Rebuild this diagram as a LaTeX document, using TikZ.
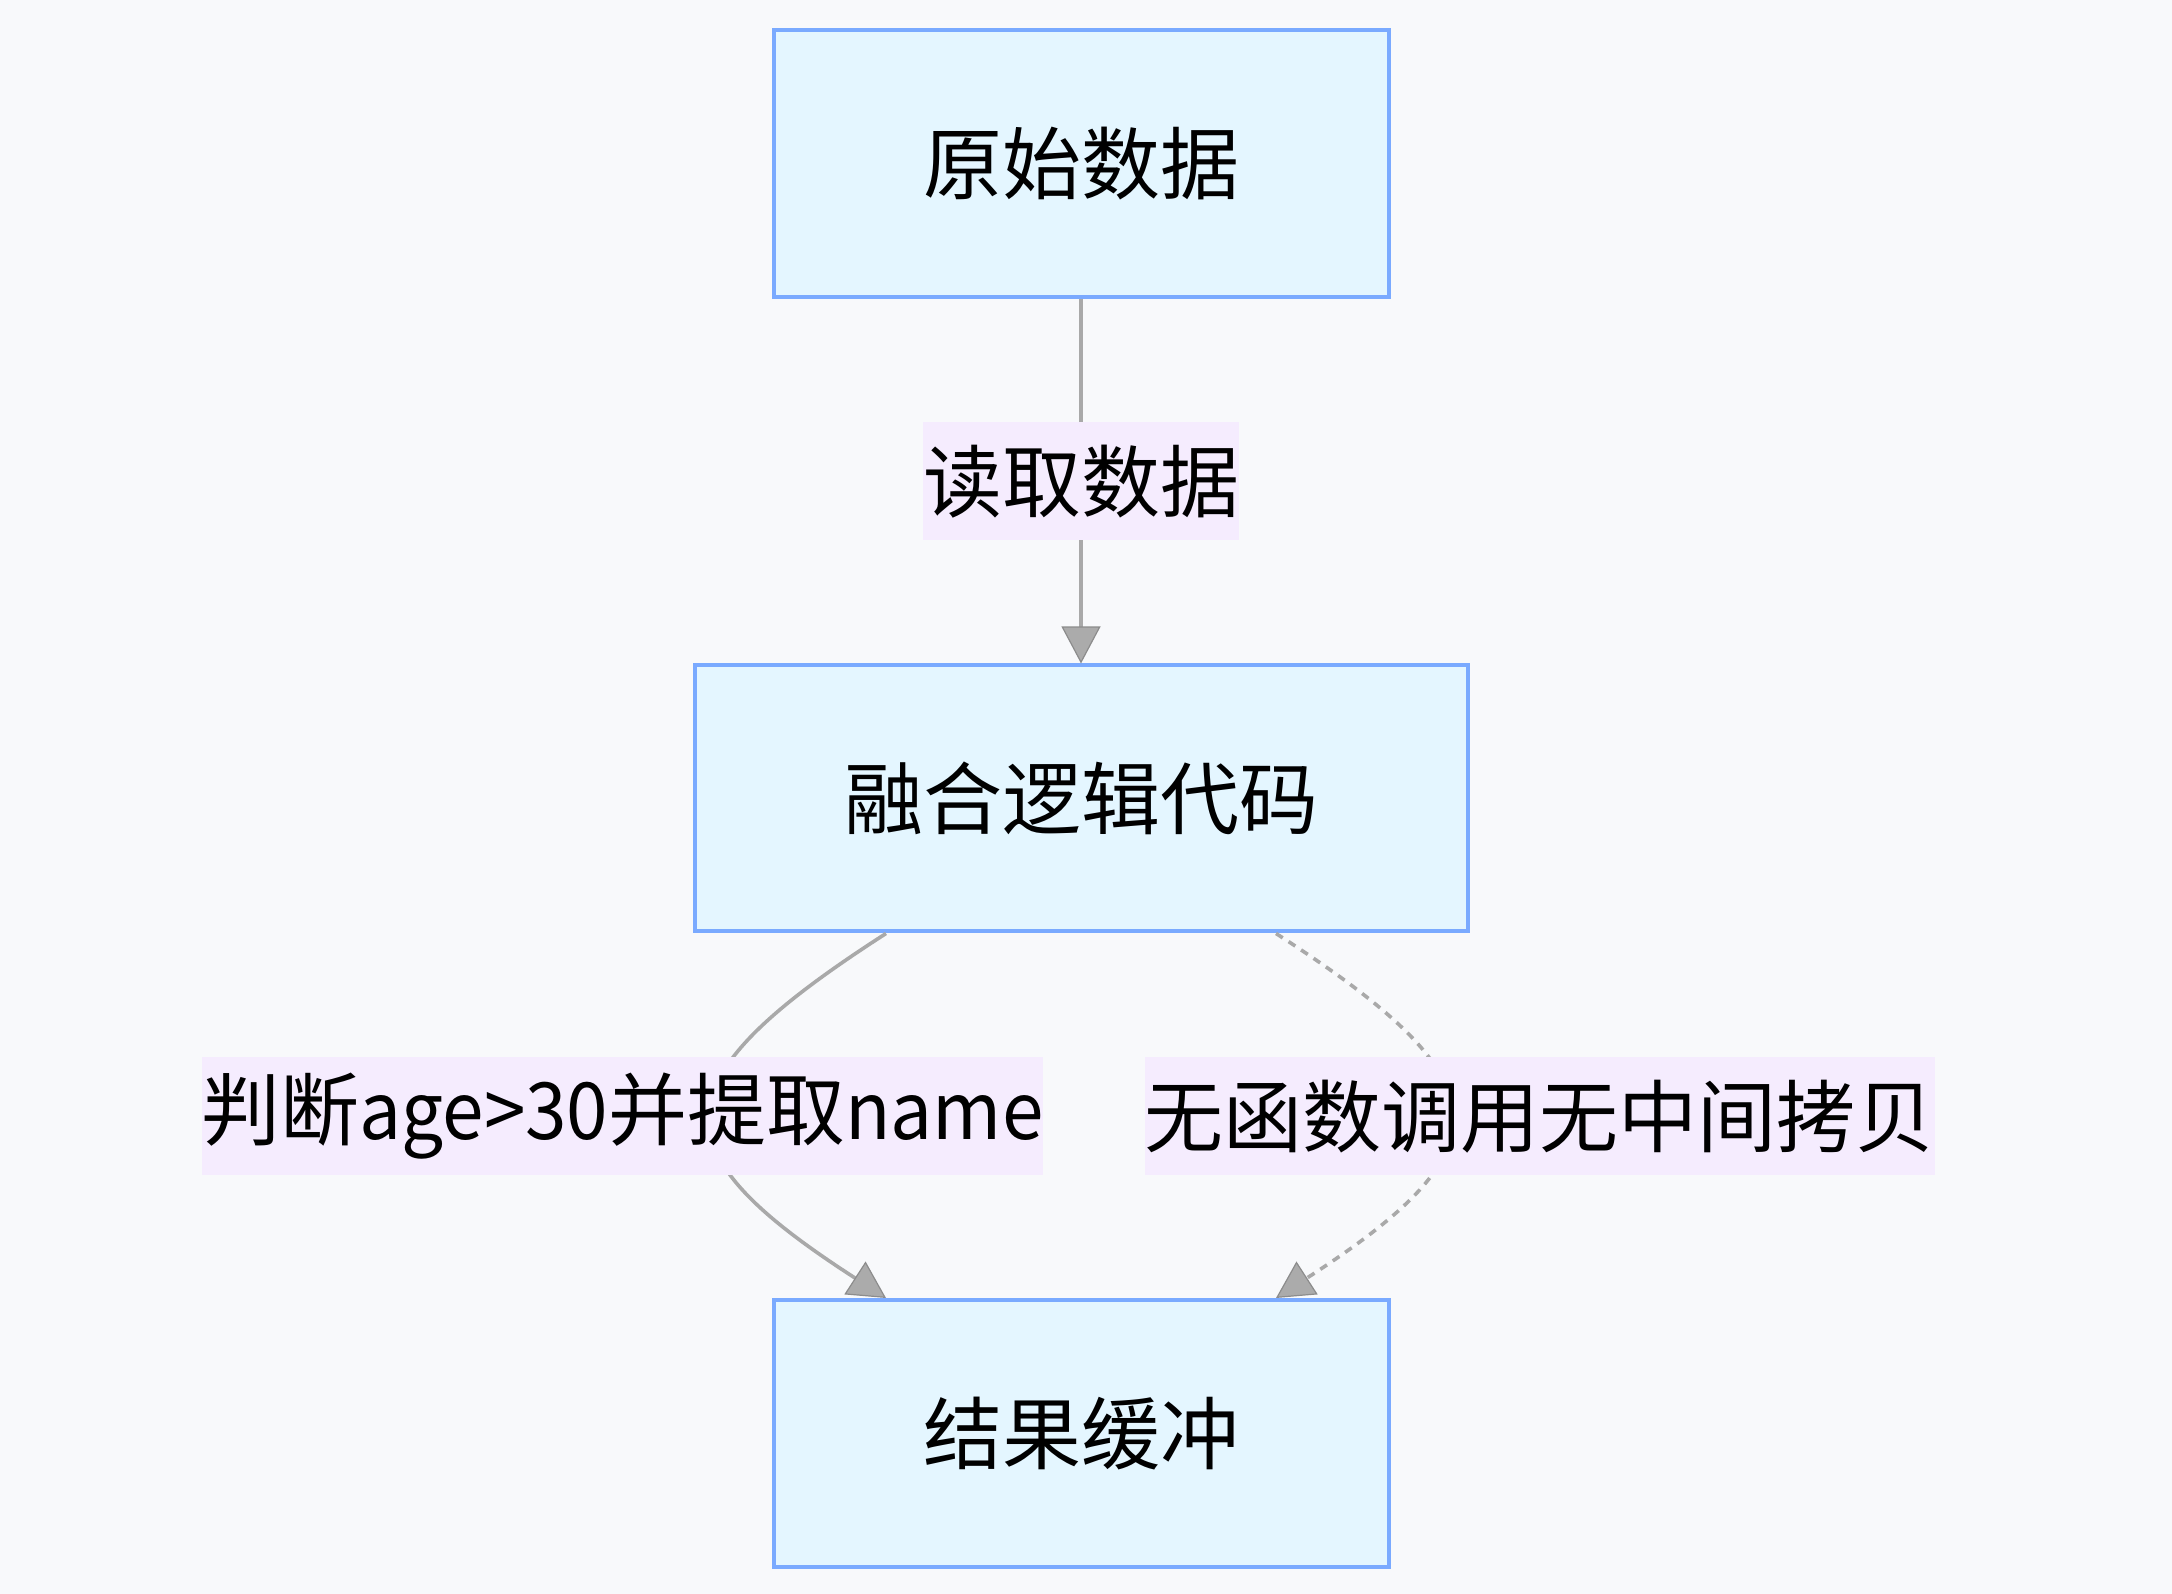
\documentclass[tikz,border=0pt]{standalone}
\usepackage{fontspec}
\setmainfont{Noto Sans CJK SC}
\newfontfamily\narrowLatin[FakeStretch=0.945]{Noto Sans CJK SC}
\usetikzlibrary{arrows.meta,calc}
\definecolor{canvasBg}{HTML}{F8F9FB}
\definecolor{boxFill}{HTML}{E4F6FF}
\definecolor{boxLine}{HTML}{7AAAFF}
\definecolor{tagFill}{HTML}{F5ECFE}
\definecolor{edgeGray}{HTML}{A9A9A9}
\newcommand{\diagramFont}{\fontsize{39.5}{47}\selectfont}
\newcommand{\edgeOffset}{195}
\newcommand{\bendX}{655}

\begin{document}
\begin{tikzpicture}[x=0.5pt, y=0.5pt, font=\diagramFont,
    procbox/.style={draw=boxLine, fill=boxFill, line width=2pt, inner sep=0pt,
      minimum width=307.5pt, minimum height=133.5pt},
    edgetag/.style={fill=tagFill, inner xsep=0pt, inner ysep=0pt, minimum height=59pt},
    flow/.style={draw=edgeGray, line width=1.8pt,
      -{Triangle[length=18.5pt, width=19.5pt, line width=0.6pt, fill=black!33, color=black!45]}}]
\fill[canvasBg] (0,0) rectangle (2172,1594);
\useasboundingbox (0,0) rectangle (2172,1594);
% the three steps
\node[procbox] (raw) at (1081,1430.5) {原始数据};
\node[procbox, minimum width=386.5pt, minimum height=133pt] (fuse) at (1081,795.5) {融合逻辑代码};
\node[procbox] (result) at (1081,160.5) {结果缓冲};
% edges
\draw[flow] (raw) -- node[edgetag] (readtag) {读取数据} (fuse);
\draw[flow] ($(fuse.south)+(-\edgeOffset,0)$) .. controls (\bendX,512) and (\bendX,445) .. ($(result.north)+(-\edgeOffset,0)$);
\draw[flow, dash pattern=on 4pt off 3.5pt] ($(fuse.south)+(\edgeOffset,0)$) .. controls ({2162-\bendX},512) and ({2162-\bendX},445) .. ($(result.north)+(\edgeOffset,0)$);
\node[edgetag] (filtertag) at (622.5,477.5) {判断{\narrowLatin age>30}并提取{\narrowLatin name}};
\node[edgetag] (nocopytag) at (1539.5,477.5) {无函数调用无中间拷贝};
\end{tikzpicture}
\end{document}
